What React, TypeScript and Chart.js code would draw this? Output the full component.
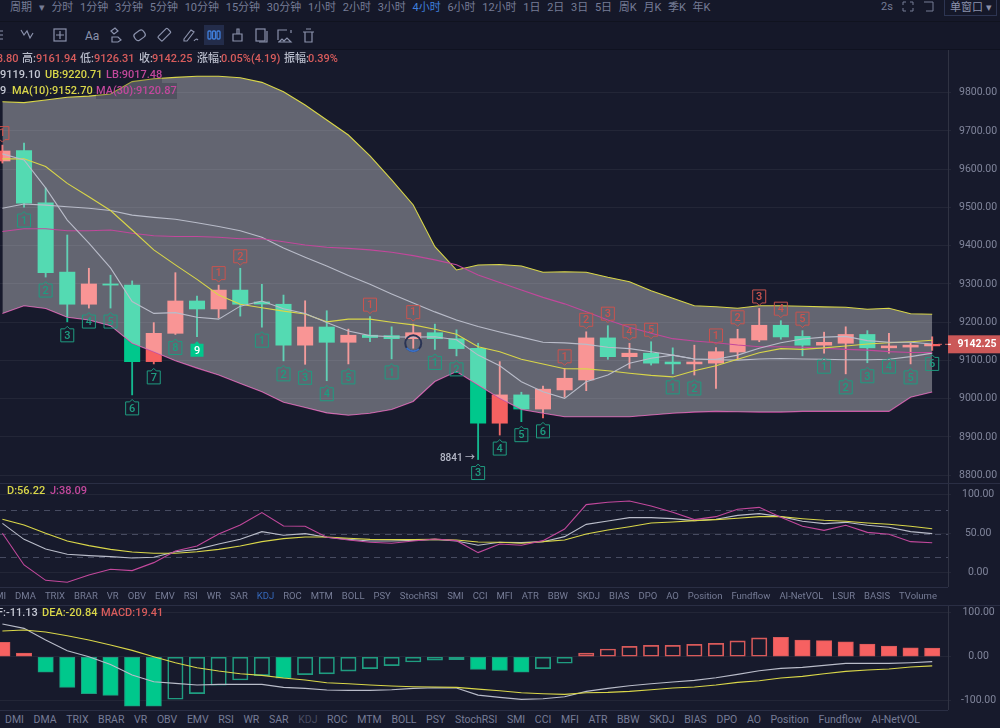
import { useEffect, useRef } from "react"
import { Chart, registerables } from "chart.js"

Chart.register(...registerables)

const opens = [9621.5, 9649, 9512, 9331, 9247, 9300, 9297, 9097, 9171, 9255.5, 9234.6, 9284, 9253, 9247, 9140, 9187.5, 9147.5, 9166, 9165, 9157, 9172.6, 9157, 9132, 8936, 9010, 8973, 9023, 9049, 9159, 9110, 9119, 9096, 9091, 9093, 9122, 9153.5, 9192, 9163, 9140, 9145, 9168, 9133, 9135, 9138.06]
const closes = [9647.6, 9511, 9329.5, 9247, 9300, 9297, 9097, 9171, 9255.5, 9234.6, 9284, 9247, 9247.5, 9140, 9187.5, 9147.5, 9166, 9160, 9157, 9172.6, 9157, 9131, 8936, 9010, 8973, 9025, 9053.5, 9159, 9110, 9119, 9093, 9091, 9096, 9123, 9157, 9192, 9161.5, 9140, 9147.5, 9168, 9133, 9138, 9140, 9142.25]
const highs = [9663, 9668.5, 9551, 9428, 9341, 9323, 9308, 9199, 9329.5, 9268.5, 9297, 9341, 9299, 9271, 9256, 9230, 9182, 9214.5, 9188, 9195, 9195, 9180, 9145, 9097, 9017, 9033, 9079.5, 9175, 9191, 9145, 9149, 9133, 9140, 9134, 9181.5, 9236, 9204, 9178, 9174, 9188, 9178, 9171, 9145, 9161.94]
const lows = [9616, 9501, 9318, 9201, 9237, 9237, 9010, 9091, 9168, 9162, 9211, 9216, 9187, 9099, 9090, 9047, 9091, 9149, 9104, 9132, 9129, 9112, 8841, 8905, 8940, 8950, 9004, 9021, 9103, 9079.5, 9088, 9065, 9062, 9027, 9103, 9149, 9155.5, 9112, 9119, 9065, 9094, 9119, 9091, 9126.31]

const bollUp = [9776.5, 9774, 9781, 9788, 9791, 9796.6, 9829, 9836.6, 9840, 9843, 9843, 9839, 9827, 9802.6, 9768, 9728.6, 9689.4, 9635, 9572, 9506.5, 9397.5, 9336.5, 9349.6, 9351, 9347, 9330.5, 9332, 9330.5, 9317.5, 9306, 9282, 9262.5, 9243, 9240.6, 9236.4, 9243, 9243, 9241.6, 9240, 9239, 9234, 9236.4, 9222, 9220.71]
const bollLow = [9223, 9243, 9236, 9213, 9206, 9191, 9145, 9123, 9099, 9080, 9062, 9040, 9018, 8991, 8977, 8963, 8957, 8962, 8972, 8993, 9045, 9071, 9036, 9001, 8972, 8962, 8953, 8953, 8953, 8953, 8957.5, 8962, 8965, 8967, 8966, 8965, 8965, 8967, 8967, 8967, 8967, 8967, 9004, 9017.48]
const bollMid = [9498, 9509, 9506, 9502, 9498, 9492, 9480, 9474, 9469, 9460, 9450, 9439, 9422, 9394, 9370, 9347, 9322, 9299, 9274, 9250, 9227, 9206, 9189, 9174.5, 9161, 9147.5, 9146, 9142, 9134.5, 9131, 9123, 9114, 9104, 9102, 9101, 9104, 9105, 9104, 9103, 9102, 9102, 9103, 9110, 9119.1]
const ma5 = [9640, 9624, 9551, 9467, 9407, 9342, 9254, 9223, 9225, 9213, 9208, 9242, 9255.5, 9235, 9223, 9199, 9177, 9165, 9162, 9161, 9162, 9154, 9114, 9086, 9044.5, 9018, 9001, 9044.5, 9062, 9093, 9106, 9114, 9104, 9103, 9114, 9132, 9146.5, 9156, 9161, 9163, 9152, 9147.5, 9147.5, 9143]
const ma10 = [9627, 9627.5, 9607, 9563, 9528, 9492, 9441, 9389, 9350, 9312, 9271, 9247, 9238, 9229, 9221.5, 9201, 9208, 9208, 9200, 9193, 9181.5, 9168.5, 9136, 9123, 9103, 9091, 9078.5, 9078, 9073, 9066.5, 9061, 9057, 9073, 9086, 9103, 9120, 9131, 9129, 9133, 9138, 9143, 9146.5, 9149, 9152.7]
const ma30 = [9437, 9444.5, 9444.5, 9439, 9439, 9441, 9432.5, 9426, 9424, 9424, 9422, 9418, 9418, 9410.5, 9402, 9396, 9393, 9389, 9383, 9374, 9363, 9350, 9323.5, 9304, 9284, 9265, 9248, 9227.5, 9206, 9187, 9171, 9157, 9151, 9146.5, 9140.5, 9136, 9136, 9134.5, 9132, 9129, 9127, 9123, 9121, 9120.87]

const kdjK = [63.1, 42.5, 30.1, 23.2, 21.5, 20.2, 18.5, 19.4, 26.6, 29.6, 36.5, 42.5, 52.4, 47.7, 49.8, 45.1, 42.5, 40.4, 40.4, 41.2, 42.5, 40.4, 34.8, 38.7, 38.2, 39.5, 46, 61.8, 66.1, 70.4, 70.4, 69.2, 66.6, 68.3, 73.4, 75.6, 71.7, 65.7, 62.7, 64.4, 60.6, 58, 52.4, 49.8]
const kdjD = [68.3, 61, 50.3, 40.4, 34.4, 29.6, 26.2, 24.5, 24.5, 26.6, 29.6, 33.9, 39.5, 43.4, 45.5, 45.5, 43.8, 42.5, 42.1, 42.1, 42.5, 41.7, 39.1, 38.7, 37.4, 39.5, 41.7, 49.4, 54.5, 58.8, 63.6, 64.9, 66.6, 67.9, 69.6, 71.7, 71.7, 69.1, 67, 65.7, 63.6, 61.9, 59.3, 56.22]
const kdjJ = [50.3, 9.5, -10.3, -12.8, -3.4, 3.9, 2.2, 12.5, 27.5, 33.9, 49.4, 61, 76.9, 59.7, 59.3, 45.1, 41.7, 38.7, 37.4, 40.4, 43, 40.8, 25.4, 36.5, 34.8, 40.8, 55.8, 87.2, 90.2, 91.9, 85.5, 77.3, 67.9, 71.7, 81.2, 83.7, 70.9, 59.3, 54.1, 60.6, 51.5, 49, 39.5, 38.09]

const macdHist = [33, 8, -35, -70, -84, -88, -113, -113, -97, -84, -65, -53, -43, -49, -41, -39, -33, -27, -20.5, -12, -8, -7, -29, -31, -35, -27, -15, 8, 17.5, 23.6, 26, 26, 28, 30.4, 36, 43, 44, 38, 36.5, 34, 29, 24.3, 20.5, 19.41]
const macdSolid = [0, 1, 2, 3, 4, 5, 6, 7, 13, 22, 23, 24, 36, 37, 38, 39, 40, 41, 42, 43]
const dif = [74.5, 64.6, 38, 13.7, 0, -17.5, -41.8, -57, -60.8, -64.6, -63.1, -63.1, -63.1, -70, -72.2, -76, -76.8, -76.8, -75.3, -72.2, -70.7, -71.5, -87.5, -92.8, -97.3, -95.8, -91.3, -79, -72.2, -66.2, -61.6, -57.8, -54, -47.9, -40.3, -32, -26.6, -24.3, -19.8, -15.2, -15.2, -15.2, -13.7, -11.13]
const dea = [58.6, 60.8, 56.3, 47.9, 38, 26.6, 14.4, 0, -13.7, -25.1, -32.7, -38.8, -42.6, -48.7, -53.2, -59.3, -61.6, -64.6, -66.9, -68.4, -69.2, -70, -73.8, -77.6, -82.1, -84.4, -85.9, -82.1, -81.4, -79, -75.3, -71.5, -69.2, -64.6, -58.6, -54.8, -48.7, -44.9, -38.8, -33.5, -30.4, -28.1, -23.6, -20.84]

const buyAt = [1, 2, 3, 4, 5, 6, 7, 8, 9, 12, 13, 14, 15, 16, 18, 20, 21, 22, 23, 24, 25, 31, 32, 38, 39, 40, 41, 42, 43]
const buyCount = [1, 2, 3, 4, 5, 6, 7, 8, 9, 1, 2, 3, 4, 5, 1, 1, 2, 3, 4, 5, 6, 1, 2, 1, 2, 3, 4, 5, 6]
const sellAt = [0, 10, 11, 17, 19, 26, 27, 28, 29, 30, 33, 34, 35, 36, 37]
const sellCount = [1, 1, 2, 1, 1, 1, 2, 3, 4, 5, 1, 2, 3, 4, 5]

const priceTicks = [9800, 9700, 9600, 9500, 9400, 9300, 9200, 9100, 9000, 8900, 8800]
const kdjTicks = [100, 50, 0]
const kdjLevels = [80, 50, 20]
const macdTicks = [100, 0, -100]
const lastPrice = 9142.25

const periods = ["周期", "▾", "分时", "1分钟", "3分钟", "5分钟", "10分钟", "15分钟", "30分钟", "1小时", "2小时", "3小时", "4小时", "6小时", "12小时", "1日", "2日", "3日", "5日", "周K", "月K", "季K", "年K"]
const kdjTabs = ["DMI", "DMA", "TRIX", "BRAR", "VR", "OBV", "EMV", "RSI", "WR", "SAR", "KDJ", "ROC", "MTM", "BOLL", "PSY", "StochRSI", "SMI", "CCI", "MFI", "ATR", "BBW", "SKDJ", "BIAS", "DPO", "AO", "Position", "Fundflow", "AI-NetVOL", "LSUR", "BASIS", "TVolume"]
const macdTabs = ["DMI", "DMA", "TRIX", "BRAR", "VR", "OBV", "EMV", "RSI", "WR", "SAR", "KDJ", "ROC", "MTM", "BOLL", "PSY", "StochRSI", "SMI", "CCI", "MFI", "ATR", "BBW", "SKDJ", "BIAS", "DPO", "AO", "Position", "Fundflow", "AI-NetVOL"]

const BG = "#171a2c"
const GREEN = "#00c88c"
const RED = "#f66161"
const YELLOW = "#d9d649"
const MAGENTA = "#c2489c"
const WHITE = "#b9bcc9"
const GRID = "rgba(255,255,255,0.055)"
const TICK_TEXT = "#80859b"
const FONT = "Roboto, 'Noto Sans CJK SC', sans-serif"
const BAR_W = 15.4

const pts = (vals: number[]) => vals.map((y, i) => ({ x: i, y }))

const line = (label: string, vals: number[], color: string, order: number, extra = {}) => ({
  type: "line" as const,
  label,
  data: pts(vals),
  borderColor: color,
  borderWidth: 1.1,
  pointRadius: 0,
  tension: 0,
  order,
  ...extra,
})

function paneOptions(min: number, max: number, ticks: number[], pad: number) {
  return {
    responsive: false,
    animation: false as const,
    layout: { padding: 0 },
    plugins: { legend: { display: false }, tooltip: { enabled: false } },
    events: [],
    scales: {
      // bar charts turn scale offset on by default, which would shift index 0 inward
      x: { type: "linear" as const, display: false, offset: false, min: -0.111, max: 43.73 },
      y: {
        position: "right" as const,
        min,
        max,
        afterBuildTicks: (s: any) => {
          s.ticks = ticks.map((value) => ({ value }))
        },
        afterFit: (s: any) => {
          s.width = 52
          s.paddingTop = 0
          s.paddingBottom = 0
        },
        grid: { color: GRID, tickLength: 3 },
        border: { color: "rgba(255,255,255,0.11)" },
        ticks: {
          color: TICK_TEXT,
          padding: pad,
          crossAlign: "center" as const,
          autoSkip: false,
          font: { family: FONT, size: 10.5 },
          callback: (v: any) => Number(v).toFixed(2),
        },
      },
    },
  }
}

function tag(ctx: CanvasRenderingContext2D, x: number, y: number, n: number, up: boolean) {
  const c = up ? "#1f9c80" : "#c9544f"
  const h = 6.5
  const w = 6.5
  const tip = up ? -1 : 1
  ctx.beginPath()
  ctx.moveTo(x - w, y - tip * h)
  ctx.lineTo(x + w, y - tip * h)
  ctx.lineTo(x + w, y + tip * h)
  ctx.lineTo(x + 2.5, y + tip * h)
  ctx.lineTo(x, y + tip * (h + 2.5))
  ctx.lineTo(x - 2.5, y + tip * h)
  ctx.lineTo(x - w, y + tip * h)
  ctx.closePath()
  if (n === 9 && up) {
    ctx.fillStyle = GREEN
    ctx.fill()
  } else {
    ctx.strokeStyle = c
    ctx.lineWidth = 1
    ctx.stroke()
  }
  ctx.fillStyle = n === 9 && up ? "#fff" : c
  ctx.font = `500 11px ${FONT}`
  ctx.textAlign = "center"
  ctx.textBaseline = "middle"
  ctx.fillText(String(n), x, y + 0.5)
}

const signalPlugin = {
  id: "signals",
  afterDatasetsDraw(chart: any) {
    const { ctx, scales } = chart
    const { x, y } = scales
    ctx.save()
    buyAt.forEach((i, k) => tag(ctx, x.getPixelForValue(i), y.getPixelForValue(lows[i]) + 13.5, buyCount[k], true))
    sellAt.forEach((i, k) => tag(ctx, x.getPixelForValue(i), y.getPixelForValue(highs[i]) - 12, sellCount[k], false))

    // low marker
    ctx.fillStyle = "#b4b7c6"
    ctx.font = `500 10px ${FONT}`
    ctx.textAlign = "right"
    ctx.textBaseline = "middle"
    ctx.fillText("8841 →", x.getPixelForValue(22) - 3, y.getPixelForValue(lows[22]) - 1)

    // loading ring
    const rx = x.getPixelForValue(19)
    const ry = y.getPixelForValue(9145)
    ctx.lineWidth = 2
    ctx.strokeStyle = "#2a3454"
    ctx.beginPath()
    ctx.arc(rx, ry, 8, 0, Math.PI * 2)
    ctx.stroke()
    ctx.strokeStyle = "#3a6fc4"
    ctx.beginPath()
    ctx.arc(rx, ry, 8, Math.PI * 0.25, Math.PI * 0.8)
    ctx.stroke()

    // last price tag
    const py = y.getPixelForValue(lastPrice)
    const right = chart.chartArea.right
    ctx.strokeStyle = "#e06060"
    ctx.lineWidth = 1
    ctx.setLineDash([4, 3])
    ctx.beginPath()
    ctx.moveTo(right - 10, py)
    ctx.lineTo(right, py)
    ctx.stroke()
    ctx.setLineDash([])
    ctx.fillStyle = "#cb5858"
    ctx.fillRect(right, py - 9, 52, 18)
    ctx.strokeStyle = "#fff"
    ctx.beginPath()
    ctx.moveTo(right, py)
    ctx.lineTo(right + 3, py)
    ctx.stroke()
    ctx.fillStyle = "#fff"
    ctx.font = `700 10.5px ${FONT}`
    ctx.textAlign = "center"
    ctx.fillText(lastPrice.toFixed(2), right + 29, py + 0.5)
    ctx.restore()
  },
}

const levelPlugin = {
  id: "levels",
  beforeDatasetsDraw(chart: any) {
    const { ctx, scales, chartArea } = chart
    ctx.save()
    ctx.strokeStyle = "rgba(150,155,185,0.38)"
    ctx.lineWidth = 1
    ctx.setLineDash([6, 5])
    kdjLevels.forEach((v) => {
      const py = Math.round(scales.y.getPixelForValue(v)) + 0.5
      ctx.beginPath()
      ctx.moveTo(chartArea.left, py)
      ctx.lineTo(chartArea.right, py)
      ctx.stroke()
    })
    ctx.restore()
  },
}

const candleColor = (i: number) => (closes[i] >= opens[i] ? RED : GREEN)

const mainConfig = () => ({
  type: "bar" as const,
  data: {
    datasets: [
      line("UB", bollUp, YELLOW, 3, { fill: 1, backgroundColor: "rgba(255,255,255,0.33)" }),
      line("LB", bollLow, MAGENTA, 3),
      line("BOLL", bollMid, WHITE, 2),
      line("MA5", ma5, WHITE, 1),
      line("MA10", ma10, YELLOW, 1),
      line("MA30", ma30, MAGENTA, 1),
      {
        label: "wick",
        data: highs.map((h, i) => ({ x: i, y: [lows[i], h] })),
        backgroundColor: highs.map((_, i) => (candleColor(i) === RED ? "#ee6a6a" : "#14b88f")),
        barThickness: 1.2,
        grouped: false,
        order: 6,
      },
      {
        label: "body",
        data: opens.map((o, i) => ({ x: i, y: [o, closes[i]] })),
        backgroundColor: opens.map((_, i) => candleColor(i)),
        barThickness: BAR_W,
        grouped: false,
        order: 5,
      },
    ],
  },
  options: paneOptions(8779.7, 9911.6, priceTicks, 8),
  plugins: [signalPlugin],
})

const kdjConfig = () => ({
  type: "line" as const,
  data: {
    datasets: [
      line("K", kdjK, WHITE, 3),
      line("D", kdjD, YELLOW, 2),
      line("J", kdjJ, MAGENTA, 1),
    ],
  },
  options: paneOptions(-18.9, 115.06, kdjTicks, 11),
  plugins: [levelPlugin],
})

const macdConfig = () => ({
  type: "bar" as const,
  data: {
    datasets: [
      line("DIF", dif, WHITE, 2),
      line("DEA", dea, YELLOW, 1),
      {
        label: "MACD",
        data: pts(macdHist),
        barThickness: BAR_W,
        grouped: false,
        order: 5,
        borderWidth: 1,
        borderSkipped: false,
        backgroundColor: macdHist.map((v, i) => (macdSolid.includes(i) ? (v > 0 ? RED : GREEN) : "transparent")),
        borderColor: macdHist.map((v) => (v > 0 ? "#d95a5a" : "#1f9c80")),
      },
    ],
  },
  options: paneOptions(-121.5, 117.9, macdTicks, 10),
})

function Pane({ top, height, make }: { top: number; height: number; make: () => any }) {
  const ref = useRef<HTMLCanvasElement | null>(null)

  useEffect(() => {
    if (!ref.current) return
    const chart = new Chart(ref.current, make())
    return () => chart.destroy()
  }, [])

  return <canvas ref={ref} width={1000} height={height} style={{ position: "absolute", left: 0, top, display: "block" }} />
}

function Txt({ x, y, c, children, bg, w = 500 }: { x: number; y: number; c: string; children: any; bg?: string; w?: number }) {
  return (
    <span style={{ position: "absolute", left: x, top: y - 8, height: 16, lineHeight: "16px", color: c, fontSize: 11, fontWeight: w, whiteSpace: "nowrap", background: bg }}>
      {children}
    </span>
  )
}

function Tabs({ names, top, left, size, gap, active, activeColor }: { names: string[]; top: number; left: number; size: number; gap: number; active: string; activeColor: string }) {
  return (
    <div style={{ position: "absolute", top, left, display: "flex", gap, fontSize: size, color: "#767c96", whiteSpace: "nowrap", lineHeight: "18px" }}>
      {names.map((n, i) => (
        <span key={i} style={n === active ? { color: activeColor } : undefined}>
          {n}
        </span>
      ))}
    </div>
  )
}

const icon = { fill: "none", stroke: "#8b92ac", strokeWidth: 1.2 }

function Toolbar() {
  return (
    <svg width={330} height={28} style={{ position: "absolute", left: 0, top: 22 }}>
      <g {...icon}>
        <path d="M0 9h3M0 13h3M0 17h3" />
        <path d="M21 8l3 5 3-4 3 7 3-5" />
        <rect x={54} y={7} width={12} height={12} />
        <path d="M60 9v8M56 13h8" />
        <path d="M111 9l4-3 3 3-4 3zM112 15h6l3 3-3 2h-6z" />
        <rect x={134} y={9} width={11} height={8} rx={3} transform="rotate(-35 140 13)" />
        <rect x={158} y={10} width={13} height={6} rx={1} transform="rotate(-45 164 13)" />
        <path d="M184 17l7-9 3 2-7 9h-3zM194 19q2-3 4-1" />
        <path d="M233 12h9v7h-9zM237 12V7h2v5" />
        <rect x={256} y={7} width={9} height={12} />
        <path d="M267 9v11h-8" />
        <path d="M278 18V8h9M291 8v3M278 20h13l-4-4-3 3-2-2-3 3" />
        <path d="M303 10h11M305 10v10h7V10M306 7h5" />
      </g>
      <rect x={204} y={3} width={20} height={20} fill="#232c4a" />
      <g fill="none" stroke="#3f7fdc" strokeWidth={1.3}>
        <rect x={208} y={9} width={3} height={8} rx={1} />
        <rect x={212.5} y={9} width={3} height={8} rx={1} />
        <rect x={217} y={9} width={3} height={8} rx={1} />
      </g>
      <text x={85} y={18} fill="#8b92ac" fontSize={12} fontFamily={FONT}>Aa</text>
    </svg>
  )
}

export default function App() {
  return (
    <div style={{ position: "fixed", left: 0, top: 0, width: 1000, height: 728, overflow: "hidden", background: BG, fontFamily: FONT }}>
      <div style={{ position: "absolute", left: 0, top: 0, width: 1000, height: 50, background: "#151829", borderBottom: "1px solid #0f1220", boxSizing: "border-box" }} />
      <div style={{ position: "absolute", left: 0, top: 21, width: 1000, height: 1, background: "#10131f" }} />
      <Tabs names={periods} top={-1} left={10} size={11} gap={6.7} active="4小时" activeColor="#3f7fdc" />
      <span style={{ position: "absolute", left: 881, top: 0, fontSize: 11, color: "#767c96" }}>2s</span>
      <svg width={34} height={16} style={{ position: "absolute", left: 902, top: 0 }} fill="none" stroke="#767c96" strokeWidth={1}>
        <path d="M1 5V2h3M8 2h3v3M1 8v3h3M8 11h3V8M31 2v9h-7M22 2h9" />
      </svg>
      <div style={{ position: "absolute", left: 944, top: -1, width: 53, height: 17, border: "1px solid #2d3552", boxSizing: "border-box", color: "#8b92ac", fontSize: 11, lineHeight: "16px", paddingLeft: 5 }}>单窗口 ▾</div>
      <Toolbar />

      <Pane top={50} height={433} make={mainConfig} />
      <Pane top={483} height={104} make={kdjConfig} />
      <Pane top={605} height={105} make={macdConfig} />

      <div style={{ position: "absolute", left: 0, top: 483, width: 1000, height: 1, background: "#2a2e44" }} />
      <div style={{ position: "absolute", left: 0, top: 587, width: 948, height: 1, background: "#2a2e44" }} />
      <div style={{ position: "absolute", left: 0, top: 605, width: 1000, height: 1, background: "#2a2e44" }} />
      <div style={{ position: "absolute", left: 0, top: 710, width: 948, height: 1, background: "#2a2e44" }} />

      <Tabs names={kdjTabs} top={587} left={-11} size={9.5} gap={8.98} active="KDJ" activeColor="#3567b8" />
      <Tabs names={macdTabs} top={711} left={5} size={10.5} gap={9.65} active="KDJ" activeColor="#474b60" />

      <Txt x={-22} y={59} c="#d85c5c">9138.80</Txt>
      <Txt x={22} y={59} c="#b8bccb">高:</Txt>
      <Txt x={36} y={59} c="#d85c5c">9161.94</Txt>
      <Txt x={80} y={59} c="#b8bccb">低:</Txt>
      <Txt x={94} y={59} c="#d85c5c">9126.31</Txt>
      <Txt x={139} y={59} c="#b8bccb">收:</Txt>
      <Txt x={152} y={59} c="#d85c5c">9142.25</Txt>
      <Txt x={197} y={59} c="#b8bccb">涨幅:</Txt>
      <Txt x={221} y={59} c="#d85c5c">0.05%(4.19)</Txt>
      <Txt x={284} y={59} c="#b8bccb">振幅:</Txt>
      <Txt x={308} y={59} c="#d85c5c">0.39%</Txt>

      <Txt x={0} y={75} c="#c5c8d4">9119.10</Txt>
      <Txt x={45} y={75} c={YELLOW}>UB:9220.71</Txt>
      <Txt x={106} y={75} c={MAGENTA} bg="rgba(23,26,44,0.25)">LB:9017.48</Txt>

      <Txt x={0} y={91} c="#c5c8d4">9</Txt>
      <Txt x={12} y={91} c={YELLOW}>MA(10):9152.70</Txt>
      <Txt x={96} y={91} c={MAGENTA} bg="rgba(23,26,44,0.25)">MA(30):9120.87</Txt>

      <Txt x={7} y={491} c={YELLOW}>D:56.22</Txt>
      <Txt x={50} y={491} c={MAGENTA}>J:38.09</Txt>

      <Txt x={-3} y={613} c="#c5c8d4">F:-11.13</Txt>
      <Txt x={42} y={613} c={YELLOW}>DEA:-20.84</Txt>
      <Txt x={101} y={613} c="#d85c5c">MACD:19.41</Txt>
    </div>
  )
}
